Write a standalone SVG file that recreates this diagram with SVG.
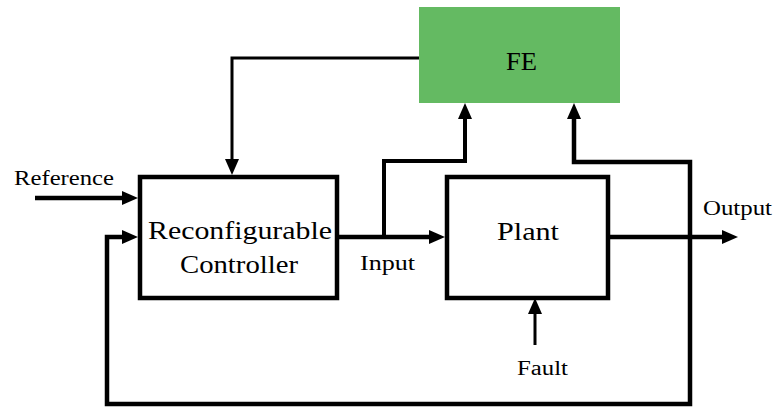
<svg xmlns="http://www.w3.org/2000/svg" width="775" height="407" viewBox="0 0 775 407">
<style>
.box{fill:#fff;stroke:#000;stroke-width:4.5}
.fe{fill:#64BA62;stroke:none}
.ln{fill:none;stroke:#000;stroke-width:4.5;stroke-linejoin:miter;stroke-linecap:butt}
.thin{stroke-width:3}
.mid{stroke-width:4}
text{font-family:"Liberation Serif","Times New Roman",serif;fill:#000}
.lbl{font-size:20px}
.big{font-size:25px;text-anchor:middle}
</style>
<defs>
<marker id="ah" viewBox="0 0 16 14" refX="8" refY="7" markerWidth="16" markerHeight="14" markerUnits="userSpaceOnUse" orient="auto-start-reverse">
<path d="M0,0 L16,7 L0,14 z" fill="#000"/>
</marker>
</defs>
<g id="connectors">
<path class="ln" d="M35,198 L130,198" marker-end="url(#ah)"/>
<path class="ln" d="M574,111 L574,162 L690,162 L690,404 L107,404 L107,237 L130,237" marker-start="url(#ah)" marker-end="url(#ah)"/>
<path class="ln" d="M337,237 L437,237" marker-end="url(#ah)"/>
<path class="ln mid" d="M384,237 L384,161 L465,161 L465,111" marker-end="url(#ah)"/>
<path class="ln" d="M608,237 L730,237" marker-end="url(#ah)"/>
<path class="ln thin" d="M419,58 L232,58 L232,167" marker-end="url(#ah)"/>
<path class="ln thin" d="M535,345 L535,306" marker-end="url(#ah)"/>
</g>
<g id="controller">
<rect class="box" x="140" y="177" width="197" height="121"/>
<text class="big" x="240" y="239" textLength="184" lengthAdjust="spacingAndGlyphs">Reconfigurable</text>
<text class="big" x="239" y="273" textLength="118" lengthAdjust="spacingAndGlyphs">Controller</text>
</g>
<g id="plant">
<rect class="box" x="447" y="177" width="161" height="121"/>
<text class="big" x="528" y="240" textLength="62" lengthAdjust="spacingAndGlyphs">Plant</text>
</g>
<g id="fe">
<rect class="fe" x="419" y="7" width="201" height="96"/>
<text class="big" x="521.5" y="70" font-size="26" textLength="31" lengthAdjust="spacingAndGlyphs">FE</text>
</g>
<g id="labels">
<text class="lbl" x="14" y="185" textLength="100" lengthAdjust="spacingAndGlyphs">Reference</text>
<text class="lbl" x="360" y="270" textLength="55" lengthAdjust="spacingAndGlyphs">Input</text>
<text class="lbl" x="703" y="215" textLength="69" lengthAdjust="spacingAndGlyphs">Output</text>
<text class="lbl" x="517" y="375" textLength="51" lengthAdjust="spacingAndGlyphs">Fault</text>
</g>
</svg>
